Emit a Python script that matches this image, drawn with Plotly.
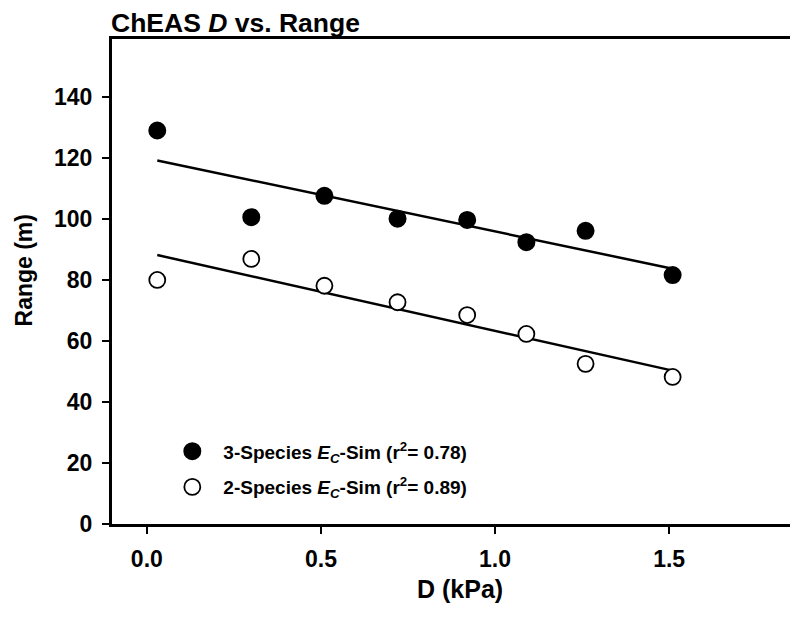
import numpy as np
import plotly.graph_objects as go

# Data
d_kpa = [0.03, 0.30, 0.51, 0.72, 0.92, 1.09, 1.26, 1.51]
range_3species = [129.0, 100.6, 107.6, 100.1, 99.7, 92.4, 96.1, 81.6]
range_2species = [80.0, 86.9, 78.1, 72.7, 68.5, 62.3, 52.5, 48.2]
x_tick_vals = [0.0, 0.5, 1.0, 1.5]
x_tick_text = ["0.0", "0.5", "1.0", "1.5"]
y_tick_vals = [0, 20, 40, 60, 80, 100, 120, 140]
label_3 = "3-Species <i>E<sub>C</sub></i>-Sim (r<sup>2</sup>= 0.78)"
label_2 = "2-Species <i>E<sub>C</sub></i>-Sim (r<sup>2</sup>= 0.89)"

FONT = "Liberation Sans, Arial, Helvetica, sans-serif"

x_arr = np.array(d_kpa)
fit_x = np.array([x_arr.min(), x_arr.max()])
p3 = np.polyfit(x_arr, np.array(range_3species), 1)
p2 = np.polyfit(x_arr, np.array(range_2species), 1)

fig = go.Figure()
fig.add_trace(go.Scatter(x=fit_x, y=np.polyval(p3, fit_x), mode="lines",
                         line=dict(color="black", width=2.5), showlegend=False, hoverinfo="skip"))
fig.add_trace(go.Scatter(x=fit_x, y=np.polyval(p2, fit_x), mode="lines",
                         line=dict(color="black", width=2.5), showlegend=False, hoverinfo="skip"))
fig.add_trace(go.Scatter(x=d_kpa, y=range_3species, mode="markers", name=label_3,
                         legendgroup="a",
                         marker=dict(symbol="circle", size=16, color="black",
                                     line=dict(color="black", width=2))))
fig.add_trace(go.Scatter(x=d_kpa, y=range_2species, mode="markers", name=label_2,
                         legendgroup="b",
                         marker=dict(symbol="circle", size=16, color="white",
                                     line=dict(color="black", width=1.8))))

axis_common = dict(showgrid=False, zeroline=False, showline=True, linecolor="black",
                   linewidth=3, ticks="outside", ticklen=7, tickwidth=2, tickcolor="black",
                   tickfont=dict(family=FONT, size=23, color="black", weight="bold"))

# The page body has an 8px default margin, so the figure is sized to fit the window.
fig.update_layout(
    width=790, height=610,
    margin=dict(l=104, r=0, t=31, b=94),
    paper_bgcolor="white", plot_bgcolor="white",
    font=dict(family=FONT, color="black"),
    xaxis=dict(range=[-0.1, 1.87], tickvals=x_tick_vals, ticktext=x_tick_text,
               mirror=True, ticklabelstandoff=5, **axis_common),
    yaxis=dict(range=[0, 159], tickvals=y_tick_vals, mirror=False,
               ticklabelstandoff=5, **axis_common),
    legend=dict(x=0.0719, y=0.189, xanchor="left", yanchor="top",
                bgcolor="rgba(0,0,0,0)", tracegroupgap=8, itemwidth=52,
                font=dict(family=FONT, size=19, color="black", weight="bold")),
    showlegend=True,
    annotations=[
        dict(text="<b>ChEAS <i>D</i> vs. Range</b>", xref="paper", yref="paper",
             x=-0.0044, y=1.033, xanchor="left", yanchor="middle", showarrow=False,
             font=dict(family=FONT, size=26.5, color="black")),
        dict(text="<b>Range (m)</b>", xref="paper", yref="paper",
             x=-0.1276, y=0.5237, xanchor="center", yanchor="middle", textangle=-90,
             showarrow=False, font=dict(family=FONT, size=23, color="black")),
        dict(text="<b>D (kPa)</b>", xref="paper", yref="paper",
             x=0.507, y=-0.1340, xanchor="center", yanchor="middle",
             showarrow=False, font=dict(family=FONT, size=25, color="black")),
    ],
)

fig.write_html("out.html")
